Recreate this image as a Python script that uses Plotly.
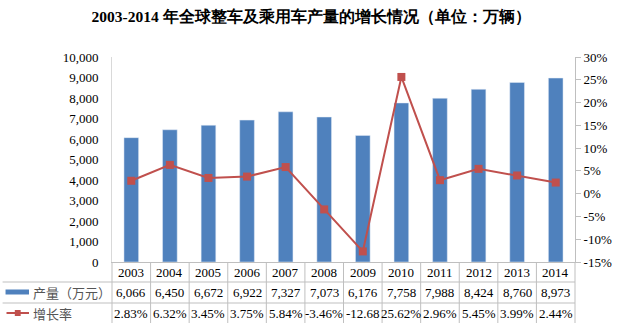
import plotly.graph_objects as go

years = ["2003", "2004", "2005", "2006", "2007", "2008", "2009", "2010", "2011", "2012", "2013", "2014"]
production = [6066, 6450, 6672, 6922, 7327, 7073, 6176, 7758, 7988, 8424, 8760, 8973]
growth = [2.83, 6.32, 3.45, 3.75, 5.84, -3.46, -12.68, 25.62, 2.96, 5.45, 3.99, 2.44]
left_ticks = [0, 1000, 2000, 3000, 4000, 5000, 6000, 7000, 8000, 9000, 10000]
right_ticks = [-15, -10, -5, 0, 5, 10, 15, 20, 25, 30]
series_names = ["产量（万元）", "增长率"]
title_text = "2003-2014 年全球整车及乘用车产量的增长情况（单位：万辆）"

W, H = 624, 334
ML, MR, MT, MB = 112, 38, 57, 72
PW, PH = W - ML - MR, H - MT - MB

def px(x):
    return (x - ML) / PW

def py(y):
    return (H - MB - y) / PH

BAR = "#4F81BD"
LINE = "#C0504D"
GRID = "#BFBFBF"
SERIF = "Liberation Serif"
CJK = "Noto Sans CJK SC"

fig = go.Figure()
fig.add_trace(go.Bar(x=years, y=production, name=series_names[0], marker_color=BAR,
                     width=0.38, yaxis="y"))
fig.add_trace(go.Scatter(x=years, y=growth, name=series_names[1], mode="lines+markers",
                         line=dict(color=LINE, width=2),
                         marker=dict(symbol="square", size=8, color=LINE), yaxis="y2"))

shapes = []
annotations = []
n = len(years)
cw = PW / n
# table grid lines
for k in range(n + 1):
    x = ML + k * cw
    shapes.append(dict(type="line", xref="paper", yref="paper", x0=px(x), x1=px(x),
                       y0=py(H - MB), y1=py(323), line=dict(color=GRID, width=1)))
for yy in (282, 303):
    shapes.append(dict(type="line", xref="paper", yref="paper", x0=px(0), x1=px(ML + PW),
                       y0=py(yy), y1=py(yy), line=dict(color=GRID, width=1)))

def cell(s):
    # the cell clips text that is wider than the column
    return s[:6] if len(s) > 6 else s

rows = [
    (272, years),
    (292, [f"{v:,}" for v in production]),
    (313, [cell(f"{v:.2f}%") for v in growth]),
]
for yy, texts in rows:
    for i, t in enumerate(texts):
        annotations.append(dict(xref="paper", yref="paper", x=px(ML + (i + 0.5) * cw), y=py(yy),
                                text=t, showarrow=False,
                                font=dict(family=SERIF, size=13, color="#000"),
                                xanchor="center", yanchor="middle"))

# left-axis tick labels written as text next to the axis (right aligned)
for v in left_ticks:
    pass

# legend keys
shapes.append(dict(type="rect", xref="paper", yref="paper", x0=px(3), x1=px(27),
                   y0=py(294.5), y1=py(289.5), fillcolor=BAR, line=dict(width=0)))
shapes.append(dict(type="line", xref="paper", yref="paper", x0=px(4), x1=px(27),
                   y0=py(313), y1=py(313), line=dict(color=LINE, width=2)))
shapes.append(dict(type="rect", xref="paper", yref="paper", x0=px(12.5), x1=px(18.5),
                   y0=py(316), y1=py(310), fillcolor=LINE, line=dict(width=0)))
annotations.append(dict(xref="paper", yref="paper", x=px(29), y=py(292), text=series_names[0],
                        showarrow=False, xanchor="left", yanchor="middle",
                        font=dict(family=CJK, size=13, color="#555")))
annotations.append(dict(xref="paper", yref="paper", x=px(29), y=py(313), text=series_names[1],
                        showarrow=False, xanchor="left", yanchor="middle",
                        font=dict(family=CJK, size=13, color="#555")))

fig.update_layout(
    width=W, height=H,
    margin=dict(l=ML, r=MR, t=MT, b=MB),
    paper_bgcolor="white", plot_bgcolor="white",
    font=dict(family=SERIF, size=13, color="#000"),
    showlegend=False,
    bargap=0.62,
    title=dict(text="<b>" + title_text + "</b>", x=311 / W, xanchor="center", y=1 - 17 / H,
               yanchor="middle", font=dict(family=SERIF, size=15.5, color="#000")),
    xaxis=dict(showticklabels=False, showline=True, linecolor=GRID, linewidth=1,
               ticks="", showgrid=False, range=[-0.5, n - 0.5]),
    yaxis=dict(range=[0, 10000], tickvals=left_ticks,
               ticktext=[f"{v:,}" for v in left_ticks], showgrid=False,
               showline=True, linecolor="#D9D9D9", linewidth=1,
               ticks="outside", ticklen=10, tickcolor="rgba(0,0,0,0)",
               tickfont=dict(family=SERIF, size=13, color="#000"), zeroline=False),
    yaxis2=dict(range=[-15, 30], tickvals=right_ticks,
                ticktext=[f"{v}%" for v in right_ticks], overlaying="y", side="right",
                showgrid=False, showline=True, linecolor="#BFBFBF", linewidth=1,
                ticks="outside", ticklen=5, tickcolor="#BFBFBF", zeroline=False,
                tickfont=dict(family=SERIF, size=13, color="#000")),
    shapes=shapes, annotations=annotations,
)

fig.write_html("out.html")
